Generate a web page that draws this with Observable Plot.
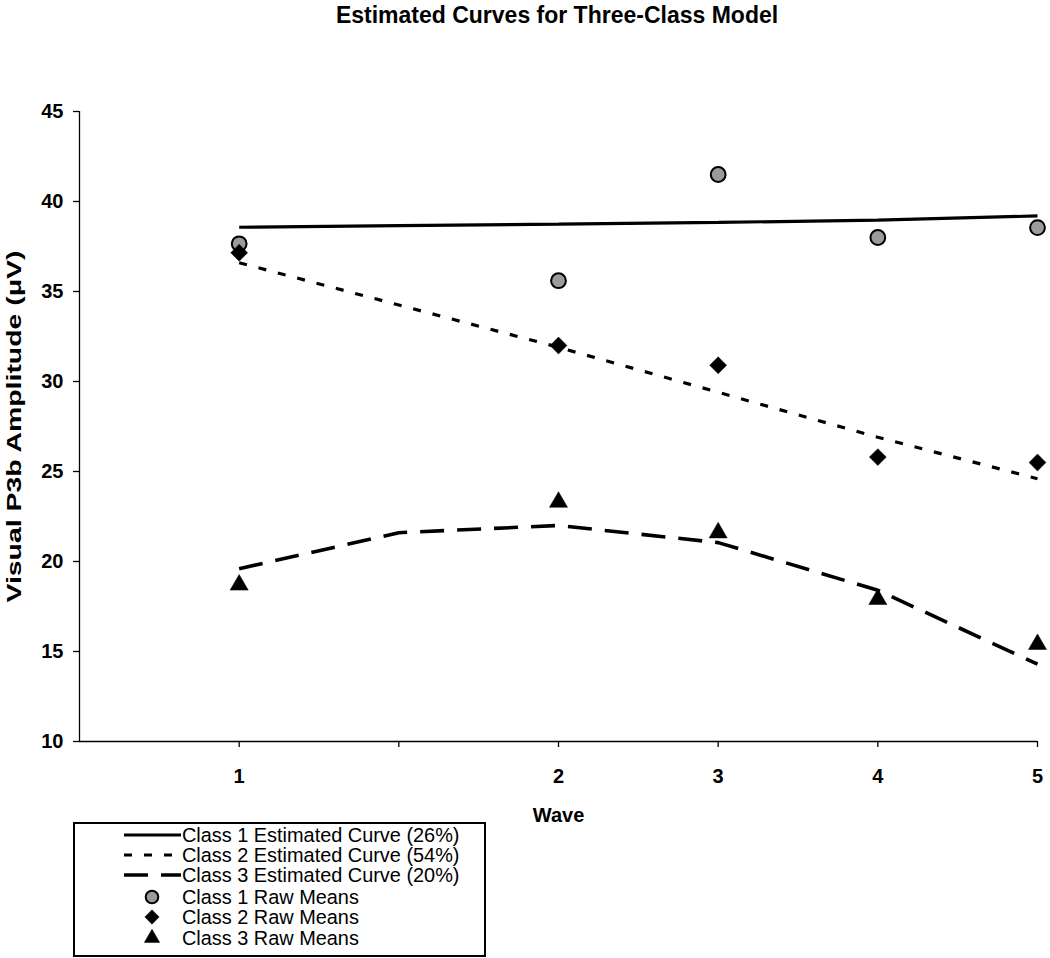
<!DOCTYPE html>
<html>
<head>
<meta charset="utf-8">
<script src="https://cdn.jsdelivr.net/npm/d3@7"></script>
<script src="https://cdn.jsdelivr.net/npm/@observablehq/plot@0.6"></script>
<style>
  html, body { margin: 0; padding: 0; background: #fff; }
  #wrap { position: relative; width: 1050px; height: 958px; overflow: hidden; font-family: "Liberation Sans", Arial, sans-serif; }
  #title { position: absolute; left: 0; top: 0; width: 1050px; box-sizing: border-box; padding-left: 64px; text-align: center; font-weight: bold; font-size: 23px; line-height: 23px; padding-top: 4px; }
  #chart { position: absolute; left: 0; top: 40px; }
  #legend { position: absolute; left: 0; top: 0; }
</style>
</head>
<body>
<div id="wrap">
  <div id="title">Estimated Curves for Three-Class Model</div>
  <div id="chart"></div>
  <div id="legend"></div>
</div>
<script>
// ---- data ----
const slots = [1, 2, 3, 4, 5, 6];                 // positions along the x axis
const slotLabels = ["1", "", "2", "3", "4", "5"]; // wave tick labels
const yTicks = [10, 15, 20, 25, 30, 35, 40, 45];

const class1Est = [38.57, 38.66, 38.74, 38.84, 38.96, 39.2];
const class2Est = [36.6, 34.25, 31.9, 29.4, 26.9, 24.6];
const class3Est = [19.6, 21.6, 22.0, 21.05, 18.4, 14.3];

const rawSlots = [1, 3, 4, 5, 6];
const class1Raw = [37.65, 35.6, 41.5, 38.0, 38.55];
const class2Raw = [37.15, 32.0, 30.9, 25.8, 25.5];
const class3Raw = [18.7, 23.3, 21.6, 17.9, 15.4];

const seriesNames = [
  "Class 1 Estimated Curve (26%)",
  "Class 2 Estimated Curve (54%)",
  "Class 3 Estimated Curve (20%)",
  "Class 1 Raw Means",
  "Class 2 Raw Means",
  "Class 3 Raw Means"
];

// ---- tables ----
const est = [
  ...slots.map((s, i) => ({x: s, y: class1Est[i], k: "c1"})),
  ...slots.map((s, i) => ({x: s, y: class2Est[i], k: "c2"})),
  ...slots.map((s, i) => ({x: s, y: class3Est[i], k: "c3"}))
];
const raw1 = rawSlots.map((s, i) => ({x: s, y: class1Raw[i]}));
const raw2 = rawSlots.map((s, i) => ({x: s, y: class2Raw[i]}));
const raw3 = rawSlots.map((s, i) => ({x: s, y: class3Raw[i]}));

const lineStyles = {
  c1: {dash: null, w: 3.2},
  c2: {dash: "8,12", w: 3.2},
  c3: {dash: "24,13", w: 3.6}
};
const mk = {
  circle: {symbol: "circle", r: 7.4, fill: "#9b9b9b", stroke: "#000", sw: 2},
  diamond: {symbol: "diamond2", r: 7.6, fill: "#000", stroke: "#000", sw: 0.5},
  triangle: {symbol: "triangle", r: 6.7, fill: "#000", stroke: "#000", sw: 0.5}
};

const W = 1050, H = 790;
const chart = Plot.plot({
  width: W,
  height: H,
  marginLeft: 79,
  marginRight: 13,
  marginTop: 71,
  marginBottom: H - 71 - 630,
  style: {fontFamily: "'Liberation Sans', Arial, sans-serif", background: "#fff", color: "#000"},
  x: {domain: [0, 6], ticks: slots, tickFormat: (d) => slotLabels[slots.indexOf(d)] ?? "", label: null},
  y: {domain: [10, 45], ticks: yTicks, label: null},
  marks: [
    Plot.axisY({ticks: yTicks, tickSize: 6, tickPadding: 10, fontSize: 20, fontWeight: "bold", label: null, strokeWidth: 1.3}),
    Plot.axisX({ticks: slots, tickSize: 6, tickPadding: 21, fontSize: 20, fontWeight: "bold", label: null,
      tickFormat: (d) => slotLabels[slots.indexOf(d)] ?? "", strokeWidth: 1.3}),
    Plot.ruleX([0], {stroke: "#000", strokeWidth: 1.3}),
    Plot.ruleY([10], {stroke: "#000", strokeWidth: 1.3}),
    ...["c1", "c2", "c3"].map((k) =>
      Plot.line(est.filter((d) => d.k === k), {
        x: "x", y: "y", stroke: "#000", strokeWidth: lineStyles[k].w,
        strokeDasharray: lineStyles[k].dash, strokeLinecap: "butt", strokeLinejoin: "miter"
      })),
    Plot.dot(raw1, {x: "x", y: "y", symbol: mk.circle.symbol, r: mk.circle.r, fill: mk.circle.fill, stroke: mk.circle.stroke, strokeWidth: mk.circle.sw}),
    Plot.dot(raw2, {x: "x", y: "y", symbol: mk.diamond.symbol, r: mk.diamond.r, fill: mk.diamond.fill, stroke: mk.diamond.stroke, strokeWidth: mk.diamond.sw}),
    Plot.dot(raw3, {x: "x", y: "y", symbol: mk.triangle.symbol, r: mk.triangle.r, fill: mk.triangle.fill, stroke: mk.triangle.stroke, strokeWidth: mk.triangle.sw}),
    Plot.text(["Visual P3b Amplitude (\u03BCV)"], {frameAnchor: "left", textAnchor: "middle", rotate: -90, dx: -65, fontSize: 21, fontWeight: "bold", fill: "#000"}),
    Plot.text(["Wave"], {frameAnchor: "bottom", dy: 80, fontSize: 20, fontWeight: "bold", fill: "#000"})
  ]
});
document.getElementById("chart").appendChild(chart);
// the reference's axis title is drawn stretched along its length
chart.querySelectorAll("text").forEach((t) => {
  if (t.textContent.startsWith("Visual")) {
    t.setAttribute("textLength", 352);
    t.setAttribute("lengthAdjust", "spacingAndGlyphs");
  }
});

// ---- legend ----
const lg = d3.select("#legend").append("svg")
  .attr("width", W).attr("height", 958)
  .style("font-family", "'Liberation Sans', Arial, sans-serif");
lg.append("rect").attr("x", 74).attr("y", 823).attr("width", 411).attr("height", 133)
  .attr("fill", "#fff").attr("stroke", "#000").attr("stroke-width", 2);
const rowY = [835, 855, 875, 897, 917, 938];
const estKeys = ["c1", "c2", "c3"];
estKeys.forEach((k, i) => {
  lg.append("line").attr("x1", 124).attr("x2", 181).attr("y1", rowY[i]).attr("y2", rowY[i])
    .attr("stroke", "#000").attr("stroke-width", lineStyles[k].w)
    .attr("stroke-dasharray", lineStyles[k].dash);
});
const symbolsList = [mk.circle, mk.diamond, mk.triangle];
const d3sym = {circle: d3.symbolCircle, diamond2: d3.symbolDiamond2, triangle: d3.symbolTriangle};
symbolsList.forEach((m, i) => {
  const r = m.r * 0.85;
  lg.append("path")
    .attr("d", d3.symbol(d3sym[m.symbol], Math.PI * r * r)())
    .attr("transform", `translate(152,${rowY[i + 3]})`)
    .attr("fill", m.fill).attr("stroke", m.stroke).attr("stroke-width", m.sw);
});
seriesNames.forEach((name, i) => {
  lg.append("text").attr("x", 182).attr("y", rowY[i]).attr("dy", "0.36em")
    .attr("font-size", 19.9).attr("fill", "#000").text(name);
});
</script>
</body>
</html>
